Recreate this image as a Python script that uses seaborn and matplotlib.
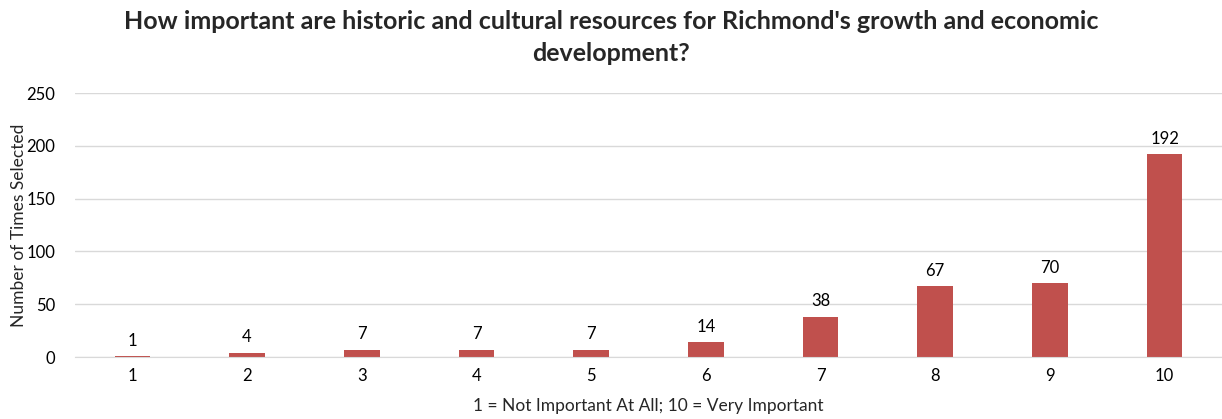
import numpy as np
import pandas as pd
import matplotlib
matplotlib.use("Agg")
import matplotlib.pyplot as plt
import seaborn as sns

# survey answers: rating 1-10 and how many people picked it
ratings = ["1", "2", "3", "4", "5", "6", "7", "8", "9", "10"]
counts = [1, 4, 7, 7, 7, 14, 38, 67, 70, 192]
y_ticks = [0, 50, 100, 150, 200, 250]

df = pd.DataFrame({"rating": ratings, "count": counts})

sns.set_style("white")
plt.rcParams['font.family'] = ["Lato", "DejaVu Sans"]

fig = plt.figure(figsize=(12.22, 4.19), dpi=100)
ax = fig.add_axes([75 / 1222, 1 - 357 / 419, 1 - 75 / 1222, (357 - 93) / 419])

sns.barplot(data=df, x="rating", y="count", color="#C0504D", saturation=1,
            width=0.31, linewidth=0, ax=ax, zorder=3)

for i, v in enumerate(counts):
    ax.text(i, v + 7, str(v), ha="center", va="bottom", fontsize=12, color="#000000")

ax.set_ylim(0, 250)
ax.set_xlim(-0.5, 9.5)
ax.set_yticks(y_ticks)
ax.yaxis.grid(True, color="#D9D9D9", linewidth=1, zorder=0)
for s in ["top", "right", "left"]:
    ax.spines[s].set_visible(False)
ax.spines["bottom"].set_color("#D9D9D9")
ax.spines["bottom"].set_zorder(4)
ax.tick_params(axis="both", length=0, labelsize=12, colors="#000000", pad=8)
ax.tick_params(axis="y", pad=14)

ax.set_xlabel("1 = Not Important At All; 10 = Very Important", fontsize=12.5, labelpad=10)
ax.set_ylabel("Number of Times Selected", fontsize=12.5, labelpad=0)

fig.suptitle("How important are historic and cultural resources for Richmond's growth and economic\ndevelopment?",
             fontsize=18, fontweight="bold", x=0.5, y=0.975, linespacing=1.45)

plt.savefig("out.png", dpi=100)
